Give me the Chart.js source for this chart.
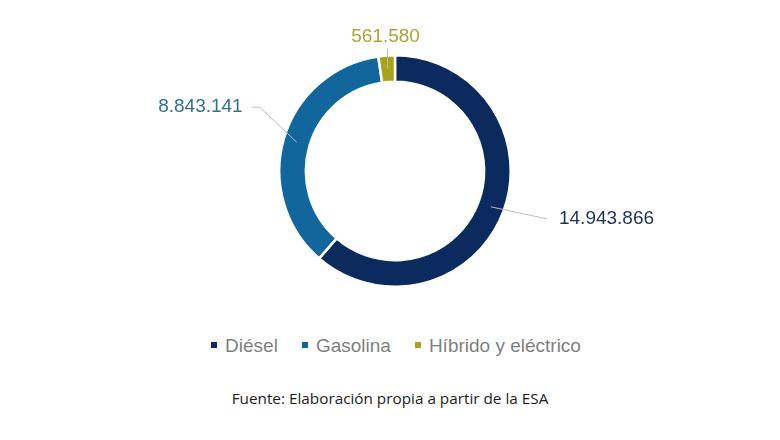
<!DOCTYPE html>
<html>
<head>
<meta charset="utf-8">
<script src="https://cdn.jsdelivr.net/npm/chart.js@4/dist/chart.umd.min.js"></script>
<style>
  html, body { margin: 0; padding: 0; background: #fff; }
  #wrap { position: relative; width: 780px; height: 440px; overflow: hidden; }
  #chartBox { position: absolute; left: 0; top: 0; width: 780px; height: 300px; }
  #legend { position: absolute; left: 0; top: 335px; width: 792px; text-align: center;
    font-family: "Liberation Sans", Arial, sans-serif; font-size: 19px; color: #7f7f7f; }
  #legend span.item { margin: 0 12px; white-space: nowrap; }
  #legend i { display: inline-block; width: 6px; height: 6px; margin-right: 8px; vertical-align: middle; position: relative; top: -2px; }
  #source { position: absolute; left: 0; top: 388px; width: 780px; text-align: center;
    font-family: "Open Sans", sans-serif; font-size: 15.3px; color: #1c1c1c; }
</style>
</head>
<body>
<div id="wrap">
  <div id="chartBox"><canvas id="donut"></canvas></div>
  <div id="legend"></div>
  <div id="source">Fuente: Elaboración propia a partir de la ESA</div>
</div>
<script>
const categories = ['Diésel', 'Gasolina', 'Híbrido y eléctrico'];
const values = [14943866, 8843141, 561580];
const valueLabels = ['14.943.866', '8.843.141', '561.580'];
const colors = ['#0b2b5e', '#11679c', '#a9a31b'];
const labelColors = ['#1f3258', '#2f7097', '#a9a43a'];

// leader-line offsets from the middle of each ring segment
const leaders = [
    { bend: [56, 12], end: [56, 12], align: 'left' },
    { bend: [-37, -35], end: [-45, -35], align: 'right' },
    { bend: [0, -20], end: [0, -20], align: 'bottom' }
];

document.getElementById('legend').innerHTML = categories.map((c, i) =>
    `<span class="item"><i style="background:${colors[i]}"></i>${c}</span>`).join('');

const leaderPlugin = {
    id: 'leaderLabels',
    afterDatasetsDraw(chart) {
        const ctx = chart.ctx;
        const meta = chart.getDatasetMeta(0);
        meta.data.forEach((arc, i) => {
            const p = arc.getProps(['x', 'y', 'startAngle', 'endAngle', 'innerRadius', 'outerRadius'], true);
            const mid = (p.startAngle + p.endAngle) / 2;
            const r = (p.innerRadius + p.outerRadius) / 2;
            const mx = p.x + Math.cos(mid) * r;
            const my = p.y + Math.sin(mid) * r;
            const L = leaders[i];
            const bx = mx + L.bend[0], by = my + L.bend[1];
            const ex = mx + L.end[0], ey = my + L.end[1];
            ctx.save();
            ctx.strokeStyle = '#b8bcc4';
            ctx.lineWidth = 1;
            ctx.beginPath();
            ctx.moveTo(mx, my);
            ctx.lineTo(bx, by);
            ctx.lineTo(ex, ey);
            ctx.stroke();
            ctx.font = '19px "Liberation Sans", Arial, sans-serif';
            ctx.fillStyle = labelColors[i];
            if (L.align === 'left') {
                ctx.textAlign = 'left'; ctx.textBaseline = 'middle';
                ctx.fillText(valueLabels[i], ex + 12, ey);
            } else if (L.align === 'right') {
                ctx.textAlign = 'right'; ctx.textBaseline = 'middle';
                ctx.fillText(valueLabels[i], ex - 9, ey);
            } else {
                ctx.textAlign = 'center'; ctx.textBaseline = 'bottom';
                ctx.fillText(valueLabels[i], ex - 2, ey - 3);
            }
            ctx.restore();
        });
    }
};

new Chart(document.getElementById('donut').getContext('2d'), {
    type: 'doughnut',
    data: {
        labels: categories,
        datasets: [{
            data: values,
            backgroundColor: colors,
            borderColor: '#ffffff',
            borderWidth: 2.5,
            hoverOffset: 0
        }]
    },
    options: {
        responsive: true,
        maintainAspectRatio: false,
        animation: false,
        cutout: '77%',
        layout: { padding: { top: 54, bottom: 12, left: 10, right: 0 } },
        plugins: { legend: { display: false }, tooltip: { enabled: false } }
    },
    plugins: [leaderPlugin]
});
</script>
</body>
</html>
